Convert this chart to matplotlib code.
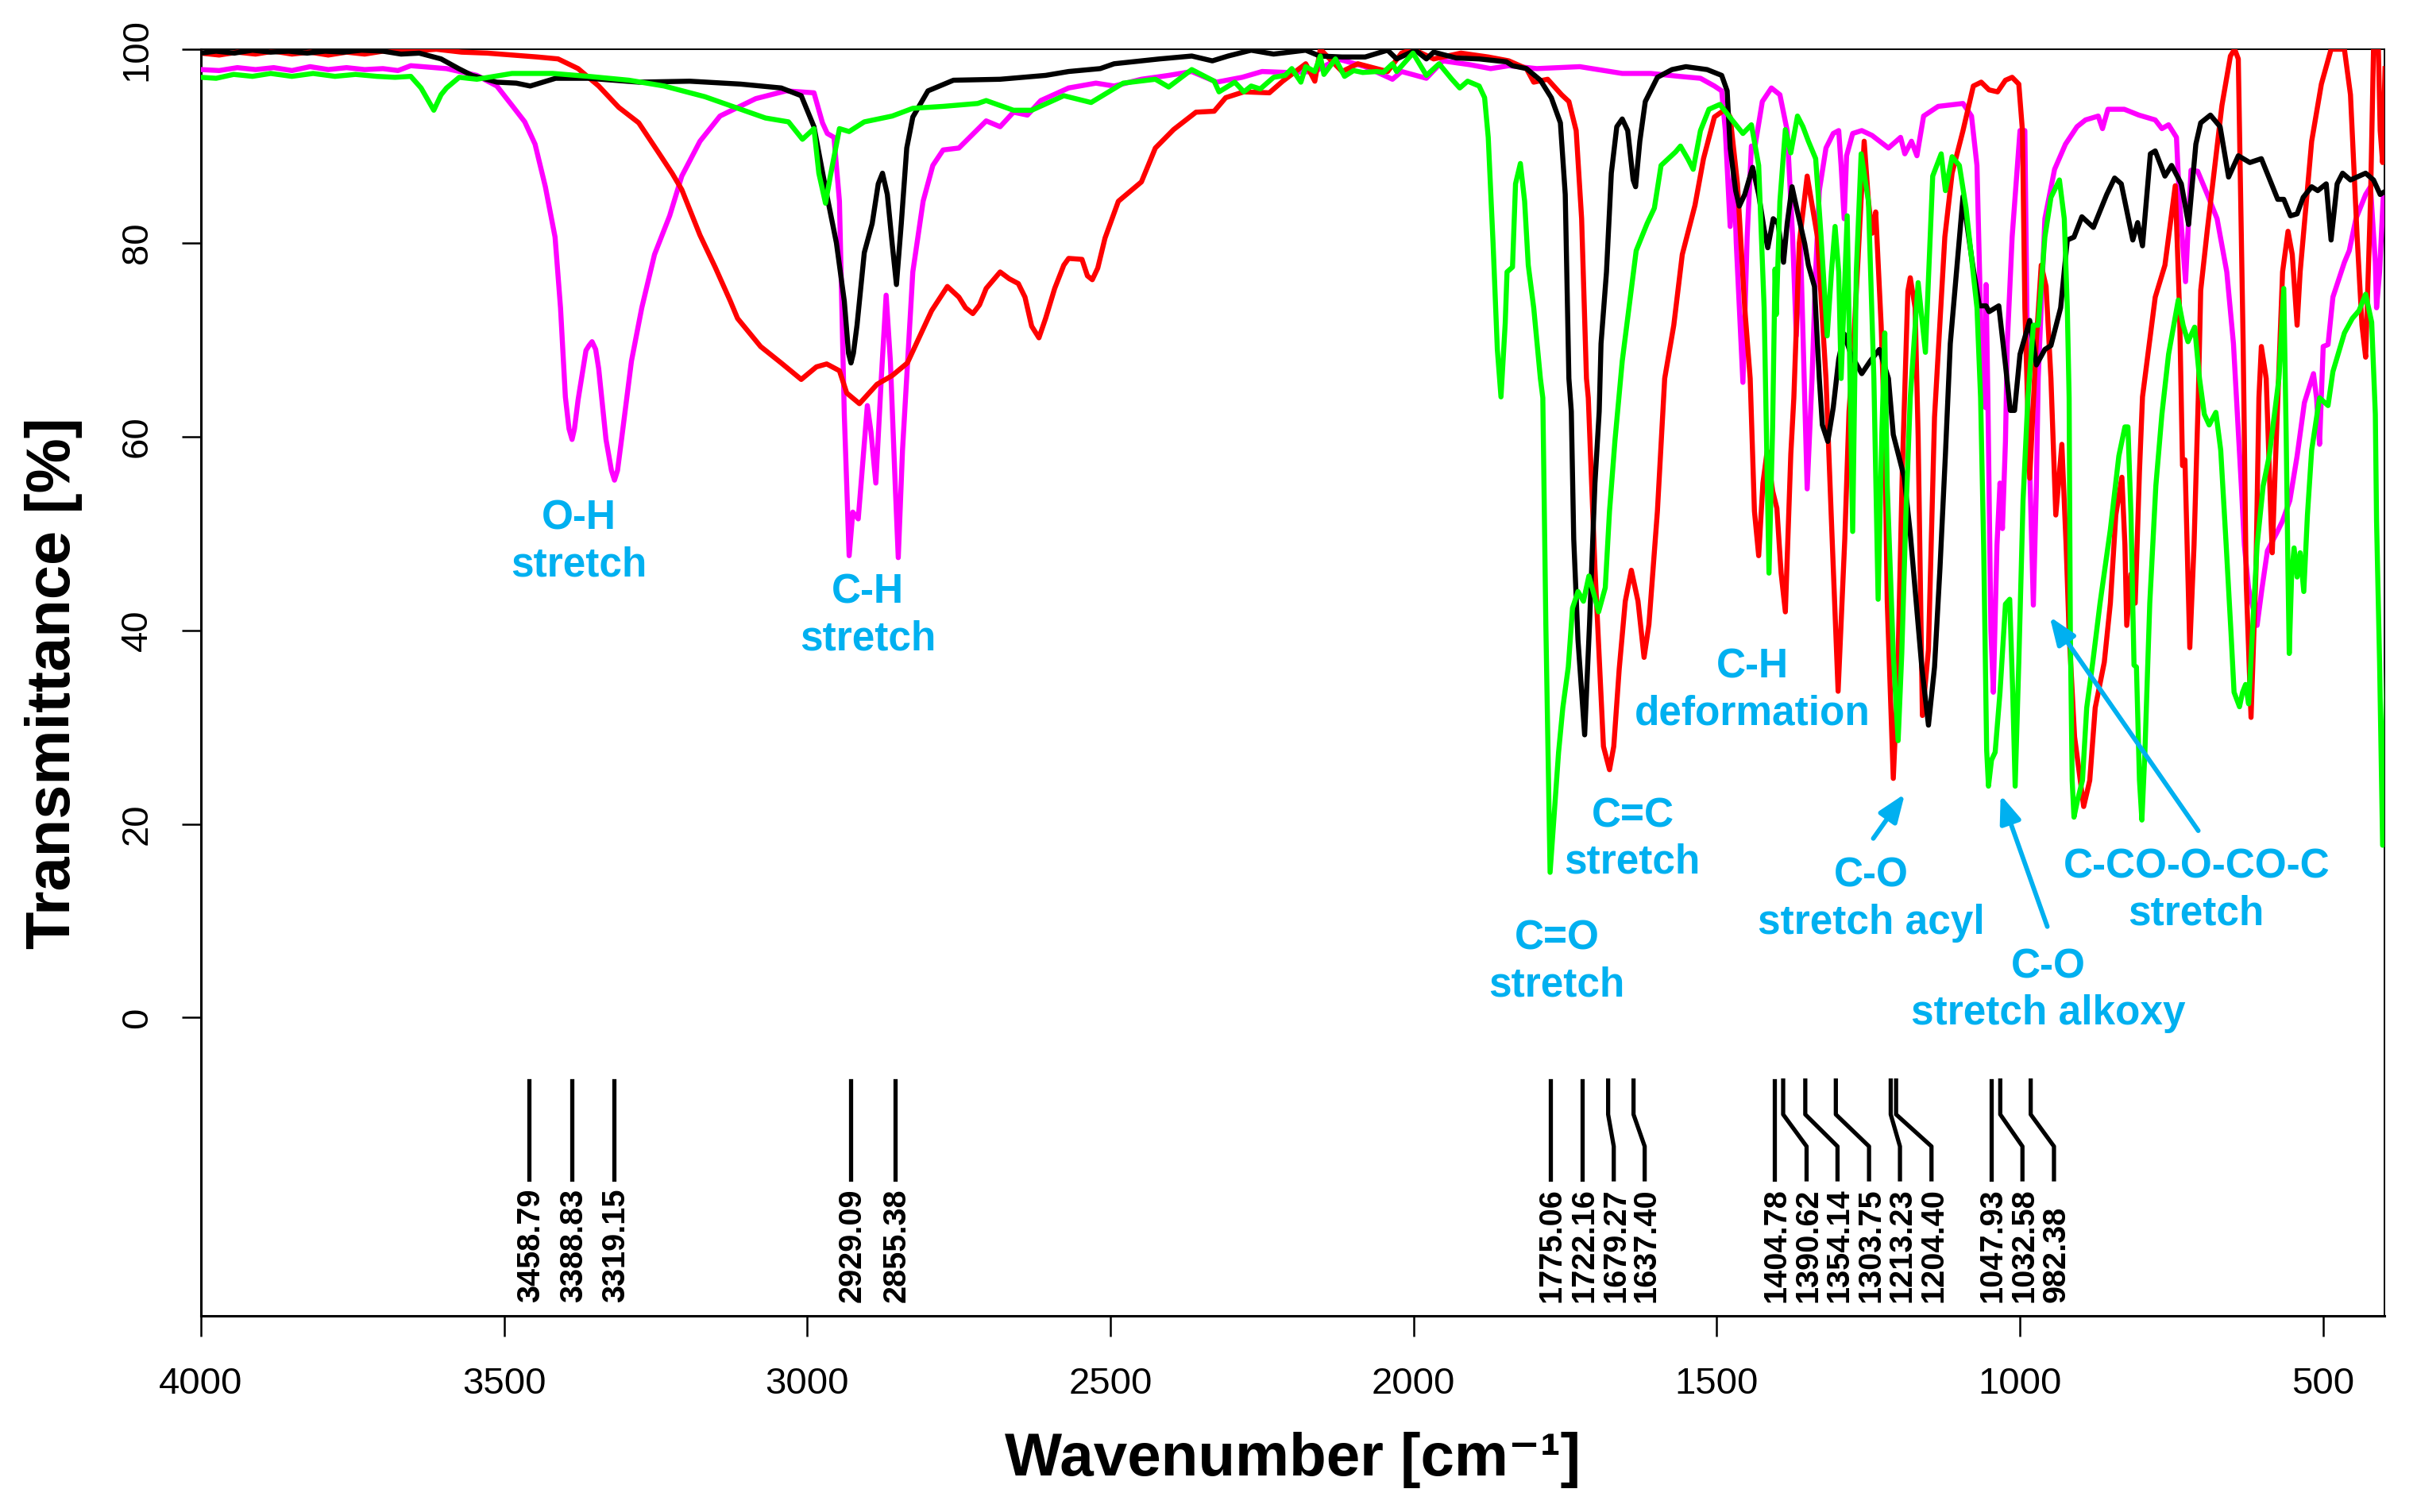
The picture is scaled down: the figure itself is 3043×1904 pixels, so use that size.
#!/usr/bin/env python3
"""FTIR overlay of four spectra with assigned peak labels."""
import numpy as np
import matplotlib
matplotlib.use("Agg")
import matplotlib.pyplot as plt

plt.rcParams["font.family"] = ["Liberation Sans", "DejaVu Sans"]

# (wavenumber, transmittance)
BLACK = [(4000,99.6),(3975,99.8),(3945,99.6),(3915,99.9),(3885,99.7),(3855,99.8),(3825,99.6),(3795,99.8),(3765,99.7),(3735,99.9),
    (3700,99.8),(3670,99.5),(3640,99.6),(3604,99),(3575,98),(3553,97.3),(3512,96.6),(3480,96.5),(3457,96.2),
    (3415,97),(3361,97),(3278,96.6),(3194,96.7),(3110,96.4),(3043,96),(3010,95.2),(2989,92),(2968,85),(2952,80),
    (2939,74),(2932,68.6),(2928,67.6),(2924,68.6),(2918,71.5),(2906,79),(2893,82),(2883,86.1),(2876,87.2),(2868,85),(2860,79.9),(2853,75.7),
    (2845,82),(2836,89.8),(2826,93),(2801,95.7),(2759,96.8),(2682,96.9),(2607,97.3),(2569,97.7),(2517,98),(2494,98.5),
    (2419,99),(2366,99.3),(2332,98.8),(2306,99.3),(2268,99.9),(2231,99.5),(2178,99.9),(2155,99.3),(2118,99.2),(2080,99.2),
    (2043,99.9),(2028,99),(1997,99.9),(1979,99),(1967,99.7),(1930,99.1),(1892,99),(1847,98.7),(1837,98.3),(1814,98),
    (1791,96.8),(1773,95),(1758,92.4),(1750,85),(1744,66),(1740,62.6),(1736,49.4),(1729,39),(1718,29.2),(1710,40.6),
    (1701,55.2),(1694,62.6),(1691,69.6),(1682,77),(1674,87.2),(1665,92),(1656,92.8),(1647,91.6),(1638,86.5),(1634,85.8),
    (1627,90.5),(1618,94.6),(1598,97.1),(1574,97.9),(1551,98.2),(1516,97.9),(1492,97.3),(1483,95.7),(1478,89.8),(1469,85.4),
    (1463,83.8),(1454,85),(1441,87.8),(1431,85),(1422,81.4),(1416,79.5),(1407,82.5),(1399,82),(1390,78),(1384,82),
    (1376,85.8),(1367,83.2),(1355,79.9),(1349,77.7),(1339,75.5),(1331,66),(1326,61.2),(1317,59.5),(1308,63),(1299,68),
    (1290,70.6),(1279,68.5),(1261,66.5),(1247,67.8),(1232,69),(1217,66),(1209,60.2),(1191,55.8),(1181,50),(1172,43.5),
    (1162,36.2),(1151,30.2),(1141,36.2),(1132,46.4),(1123,58.2),(1115,69.6),(1094,84.8),(1078,77.7),(1067,73.5),(1056,73.5),
    (1051,72.9),(1035,73.5),(1024,67.4),(1016,62.7),(1009,62.7),(1000,68.5),(984,72),(973,67.4),(959,69),(949,69.4),
    (933,73.3),(922,80.3),(911,80.6),(898,82.7),(879,81.6),(857,85),(844,86.7),(833,86.1),(814,80.3),(806,82.1),
    (798,79.7),(785,89.2),(777,89.5),(761,86.9),(750,88),(734,86.1),(722,81.9),(710,90.2),(702,92.4),(686,93.2),
    (670,92),(656,86.8),(640,89),(621,88.3),(602,88.7),(575,84.5),(565,84.5),(554,82.8),(543,83),(533,84.7),
    (519,85.8),(509,85.4),(495,86.1),(487,80.3),(477,86.1),(468,87.2),(455,86.5),(430,87.2),(417,86.5),(406,85),(396,85.4)]

RED = [(4000,99.6),(3970,99.4),(3940,99.7),(3910,99.5),(3880,99.8),(3850,99.5),(3820,99.7),(3790,99.4),(3760,99.7),(3730,99.5),
    (3700,99.8),(3654,99.8),(3612,100),(3570,99.7),(3528,99.6),(3445,99.2),(3411,99),(3378,98),
    (3344,96.2),(3311,94),(3278,92.4),(3244,89.2),(3223,87.2),(3207,85.5),(3177,80.8),(3152,77.5),(3127,74),(3115,72.2),
    (3077,69.3),(3043,67.6),(3010,65.9),(2985,67.2),(2968,67.5),(2947,66.8),(2935,64.5),(2914,63.4),(2885,65.4),(2860,66.3),
    (2835,67.6),(2795,73),(2769,75.5),(2750,74.4),(2739,73.3),(2727,72.7),(2716,73.6),(2705,75.3),(2682,77),(2667,76.3),(2652,75.8),
    (2641,74.4),(2630,71.4),(2618,70.2),(2607,72.2),(2592,75.3),(2577,77.7),(2569,78.4),(2547,78.3),
    (2538,76.6),(2530,76.2),(2521,77.4),(2509,80.5),(2487,84.3),(2449,86.3),(2426,89.8),(2396,91.7),(2359,93.5),(2329,93.6),(2310,95),(2280,95.6),
    (2238,95.5),(2216,96.7),(2178,98.5),(2163,96.7),(2154,100),(2118,97.7),(2092,98.5),(2043,97.7),(2020,99.6),(2001,100),
    (1967,99),(1922,99.6),(1877,99.2),(1843,98.8),(1814,98),(1802,96.6),(1779,96.9),(1756,95.3),(1744,94.6),(1732,91.6),
    (1723,82.5),(1715,66),(1712,64),(1701,46.4),(1687,28),(1677,25.6),(1670,28),(1661,36),(1651,43),(1641,46.2),
    (1630,43),(1620,37.2),(1612,40.6),(1598,52.3),(1586,66),(1571,71.5),(1557,78.8),(1536,83.9),(1522,88.7),(1504,93),
    (1486,93.8),(1478,93),(1466,86.1),(1454,73.3),(1445,66),(1438,52.3),(1431,47.7),(1424,55.2),(1417,58.5),(1408,54.4),
    (1401,52.6),(1394,45.9),(1387,41.9),(1378,58.2),(1373,64),(1364,80),(1351,86.9),(1334,80.6),(1320,66),(1311,51.3),
    (1300,33.7),(1289,49.4),(1282,62.6),(1276,67.8),(1257,90.5),(1250,84.3),(1244,81),(1238,83.2),(1229,71.5),(1223,60),
    (1219,43),(1209,24.7),(1202,34.7),(1194,56.8),(1185,75),(1181,76.4),(1173,73.3),(1168,60),(1161,31.2),(1151,38),
    (1141,62),(1124,80.6),(1112,87.2),(1094,91.6),(1077,96.2),(1064,96.6),(1051,95.8),(1037,95.6),(1024,96.8),(1013,97.1),
    (1002,96.4),(996,91.6),(992,73.3),(984,55.7),(973,70),(965,77.7),(957,75.5),(949,66),(941,51.9),(931,59.2),
    (924,48.8),(919,39.7),(910,29),(895,21.8),(885,24.5),(876,32),(861,36.7),(851,42.8),(842,51.9),(832,55.8),
    (827,48.8),(824,40.5),(817,45.8),(810,42.8),(803,56.4),(798,64.1),(777,74.4),(761,77.7),(744,85.9),(737,73.3),
    (732,57),(728,57.6),(720,38.2),(713,48.8),(706,64),(702,75.1),(691,81.4),(667,94.2),(653,99.3),(646,100),
    (640,99),(632,69.6),(627,45),(619,31),(611,45.8),(606,64),(602,69.3),(594,66),(586,51.3),(584,48),
    (578,58.6),(567,77),(558,81.2),(551,78.8),(543,71.5),(538,77),(519,90.5),(503,96.4),(487,100),(465,100),
    (455,95.3),(444,80.6),(436,71.5),(430,68.2),(422,84.3),(417,100),(409,100),(406,91.6),(402,88.3),(398,98)]

MAGENTA = [(4000,97.9),(3970,97.8),(3940,98.1),(3910,97.9),(3880,98.1),(3850,97.8),(3820,98.2),(3790,97.9),(3760,98.1),(3730,97.9),
    (3700,98),(3675,97.8),(3654,98.3),(3595,98),(3545,97.3),(3512,96.2),(3487,94.2),(3466,92.5),
    (3449,90.2),(3432,85.8),(3416,80.6),(3407,73.3),(3399,64.1),(3393,60.8),(3388,59.7),(3384,60.8),(3378,63.8),(3365,68.9),(3360,69.4),(3355,69.8),(3349,69),(3344,67),
    (3332,59.7),(3323,56.5),(3318,55.5),(3313,56.5),(3307,59.4),(3290,67.8),(3273,73.3),(3252,78.8),(3227,82.8),(3207,86.9),(3177,90.5),(3144,93.1),
    (3085,94.9),(3035,95.7),(2989,95.5),(2975,92.4),(2967,91.3),(2956,90.9),(2947,84.3),(2939,62.3),(2931,47.7),(2925,52.2),
    (2916,51.5),(2901,63.2),(2895,60.5),(2887,55.2),(2878,66),(2870,74.6),(2863,67.8),(2855,55),(2850,47.5),(2843,58.6),
    (2826,77),(2809,84.3),(2793,88),(2776,89.6),(2750,89.8),(2705,92.6),(2682,92),(2660,93.5),(2637,93.2),(2615,94.7),
    (2569,96),(2524,96.5),(2494,96.2),(2449,96.9),(2404,97.3),(2366,97.7),(2325,96.6),(2283,97.1),(2250,97.7),(2208,97.6),
    (2163,97.7),(2125,99),(2080,98.2),(2035,96.9),(2020,97.7),(1979,97),(1952,98.8),(1907,98.4),(1873,98),(1843,98.3),
    (1797,98),(1726,98.2),(1656,97.5),(1609,97.5),(1562,97.2),(1527,97),(1504,96.2),(1492,95.7),(1486,91.6),(1478,81.7),
    (1472,88),(1468,80),(1457,65.6),(1450,80.6),(1443,90),(1437,90),(1425,94.6),(1410,96),(1396,95.3),(1384,91.6),
    (1375,80.6),(1369,70.4),(1362,79.9),(1356,66),(1351,54.6),(1343,66),(1337,77),(1331,85.4),(1320,89.8),(1308,91.3),
    (1299,91.6),(1295,88),(1290,82.5),(1286,89),(1276,91.3),(1261,91.6),(1244,91.1),(1217,89.8),(1197,90.9),(1190,89.2),
    (1179,90.5),(1170,89),(1159,93.1),(1135,94.1),(1094,94.4),(1080,93.1),(1071,88),(1064,70),(1057,63),(1056,75.7),
    (1053,64),(1048,40),(1044,33.6),(1038,48.8),(1033,55.2),(1029,50.5),(1024,59.5),(1021,69.6),(1013,80.6),(1000,91.6),
    (992,91.6),(987,64),(982,52),(978,42.6),(973,54.9),(970,66),(959,82.5),(943,87.6),(925,90.2),(906,92),
    (892,92.7),(871,93.1),(864,91.8),(855,93.8),(828,93.8),(804,93.2),(777,92.7),(766,91.8),(755,92.2),(742,90.9),
    (737,84.3),(727,76),(718,87.5),(707,87.4),(691,85),(675,82.5),(659,77),(648,69.6),(643,64),(635,54.9),
    (630,48.8),(623,44.3),(609,40.5),(601,44.3),(592,48.2),(577,50),(567,51.3),(555,53.4),(543,58),(531,63.5),
    (516,66.5),(511,64),(506,59.2),(500,69.3),(492,69.5),(484,74.4),(465,78),(457,79.2),(446,82.5),(430,85),
    (422,85.8),(414,78),(412,73.3),(407,77),(401,84.7),(396,85.4)]

GREEN = [(4000,97.1),(3975,97),(3946,97.4),(3915,97.2),(3885,97.5),(3850,97.2),(3815,97.5),(3779,97.2),(3745,97.4),(3710,97.2),(3680,97.1),
    (3654,97.2),(3637,96),(3616,93.7),(3604,95.3),(3595,96),(3574,97.1),
    (3545,96.9),(3487,97.5),(3420,97.5),(3361,97.2),(3294,96.8),(3236,96.2),(3169,95.1),(3119,94),(3069,92.9),(3031,92.5),
    (3008,90.7),(2989,91.8),(2981,87.2),(2970,84.1),(2962,86.9),(2947,91.8),(2931,91.5),(2906,92.5),(2860,93.1),(2826,93.9),
    (2776,94.1),(2719,94.4),(2705,94.7),(2660,93.7),(2630,93.7),(2577,95.2),(2532,94.5),(2479,96.5),(2426,96.9),(2404,96.1),
    (2366,97.9),(2329,96.7),(2321,95.6),(2295,96.6),(2280,95.6),(2268,96.2),(2253,95.9),(2231,97.1),(2212,97.3),(2201,98),
    (2186,96.6),(2178,98.2),(2163,97.7),(2154,99.3),(2148,97.4),(2129,99),(2114,97.2),(2099,97.8),(2084,97.6),(2061,97.7),
    (2050,97.6),(2035,98.5),(2028,97.7),(2001,99.6),(1979,97.3),(1958,98.5),(1937,96.9),(1924,96),(1911,96.7),(1892,96.2),
    (1883,95),(1877,90.9),(1869,79.9),(1862,69),(1856,64.1),(1849,71.7),(1846,77),(1837,77.5),(1832,86.1),(1824,88.2),
    (1817,84.3),(1811,77.7),(1802,73.3),(1791,66),(1787,64),(1782,40.6),(1775,15),(1761,27.4),(1754,32),(1745,36.2),
    (1738,42.3),(1729,44),(1720,43),(1711,45.6),(1703,43.8),(1695,41.9),(1684,44.4),(1677,52.3),(1668,59.6),(1656,67.8),
    (1633,79.2),(1615,82),(1603,83.6),(1592,88),(1568,89.4),(1560,90),(1548,88.7),(1539,87.6),(1527,91.6),(1513,93.8),
    (1495,94.3),(1475,92.7),(1457,91.3),(1443,92.2),(1431,88),(1422,73.3),(1414,45.9),(1408,61),(1404,77.3),(1402,72.6),
    (1396,84.3),(1387,91.7),(1378,89.3),(1367,93.1),(1358,92),(1349,90.5),(1337,88.7),(1328,80.6),(1318,70.4),(1311,77),
    (1305,81.7),(1299,77),(1295,66),(1285,82.8),(1276,50.2),(1270,77),(1262,89.2),(1250,84.3),(1241,66),(1234,43.2),
    (1228,60),(1223,70.7),(1219,55),(1209,37.6),(1201,28.6),(1195,37.6),(1188,52.3),(1181,64),
    (1168,75.9),(1156,68.7),(1144,86.9),(1130,89.2),(1123,85.4),(1112,88.9),(1100,88),(1089,83.6),(1071,73.3),(1065,64),
    (1060,48.8),(1055,27.6),(1052,23.9),(1047,26.6),(1041,27.4),(1033,33.6),(1024,42.7),(1017,43.2),(1012,33.6),(1008,23.9),
    (1002,36.7),(995,53.4),(987,64),(978,71.5),(970,71.5),(959,80.6),(949,84.7),(935,86.5),(927,82.5),(922,73.3),
    (919,64),(917,39.7),(914,24.5),(911,20.7),(905,22.5),(897,24.5),(890,32),(880,36.7),(868,42.8),(851,50.4),
    (837,58),(827,61),(822,61),(817,51.9),(812,36.4),(808,36.2),(803,24.5),(799,20.4),(794,27.5),(786,42.8),
    (776,54.9),(766,62.3),(755,68.5),(739,74.1),(731,71.5),(723,69.8),(712,71.3),(704,66),(696,62.3),(688,61.2),
    (677,62.5),(669,58.6),(660,48.8),(652,39.7),(647,33.6),(638,32.1),(633,33.6),(628,34.4),(623,32.4),(618,38.2),
    (609,48.8),(599,54.9),(589,58),(573,66),(565,75.3),(561,60),(558,45.8),(556,37.6),(552,45.8),(548,48.5),
    (543,45.5),(538,48),(532,44),(526,51.9),(519,58.6),(506,64),(492,63.2),(484,66.7),(465,70.7),(452,72.2),
    (441,73),(430,74.7),(420,71.8),(414,62.3),(412,51.3),(407,36.7),(402,17.8),(397,30.6),(394,38.8)]

TICKS_X = [4000, 3500, 3000, 2500, 2000, 1500, 1000, 500]
TICKS_Y = [0, 20, 40, 60, 80, 100]

# peak marks: true position, then where the label ended up after spreading
PEAK_WN = [3458.79, 3388.83, 3319.15, 2929.09, 2855.38, 1775.06, 1722.16, 1679.27, 1637.40,
           1404.78, 1390.62, 1354.14, 1303.75, 1213.23, 1204.40, 1047.93, 1032.58, 982.38]
PEAK_LABEL_WN = [3458.79, 3388.83, 3319.15, 2929.09, 2855.38, 1775.06, 1722.16, 1670, 1619,
                 1404.78, 1352, 1301, 1249, 1198, 1146, 1047.93, 996, 944]

ANNOTATIONS = [
    ("O-H\nstretch", 3376, 49.1),
    ("C-H\nstretch", 2900, 41.5),
    ("C-H\ndeformation", 1441, 33.8),
    ("C=C\nstretch", 1639, 18.4),
    ("C=O\nstretch", 1764, 5.7),
    ("C-O\nstretch acyl", 1245, 12.2),
    ("C-O\nstretch alkoxy", 953, 2.8),
    ("C-CO-O-CO-C\nstretch", 709, 13.1),
]
ARROWS = [
    ((1242, 18.5), (1190, 23.1)),
    ((955, 9.4), (1032, 23)),
    ((706, 19.3), (951, 41.4)),
]

BLUE = "#00B0F0"
W, H = 3043, 1904
LEFT, RIGHT, TOP, BOTTOM = 253, 3002, 62, 1657


def main():
    fig = plt.figure(figsize=(W / 100, H / 100), dpi=100)
    ax = fig.add_axes([LEFT / W, 1 - BOTTOM / H, (RIGHT - LEFT) / W, (BOTTOM - TOP) / H])

    # R drew them in this order, green ends up on top
    for data, color in [(MAGENTA, "#FF00FF"), (RED, "#FF0000"), (BLACK, "#000000"), (GREEN, "#00FF00")]:
        wn, t = np.array(data).T
        ax.plot(wn, t, color=color, lw=4.6, solid_joinstyle="round", zorder=3)

    ax.set_xlim(4000, 399)
    ax.set_ylim(-30.8, 100)

    # peak leader lines
    for wn, lab in zip(PEAK_WN, PEAK_LABEL_WN):
        ax.plot([wn, wn, lab, lab], [-6.5, -10, -13.3, -16.7], color="black", lw=3.8, zorder=3)
        ax.text(lab - 3, -29.4, f"{wn:.2f}", rotation=90, ha="center", va="bottom",
                fontsize=28.5, fontweight="bold", color="black")

    for txt, x, y in ANNOTATIONS:
        ax.text(x, y, txt, ha="center", va="center", fontsize=37, fontweight="bold",
                color=BLUE, linespacing=1.26, zorder=5)
    for start, end in ARROWS:
        ax.annotate("", xy=end, xytext=start, zorder=6,
                    arrowprops=dict(arrowstyle="-|>,head_length=0.7,head_width=0.27", color=BLUE,
                                    lw=4.2, mutation_scale=30, shrinkA=0, shrinkB=0))

    ax.set_xticks(TICKS_X)
    ax.set_yticks(TICKS_Y)
    ax.tick_params(axis="x", length=19, width=1.8, labelsize=34, pad=27)
    ax.tick_params(axis="y", length=17, width=1.8, labelsize=34, pad=25)
    for label in ax.get_yticklabels():
        label.set_rotation(90)
        label.set_va("center")
    for side in ["top", "right"]:
        ax.spines[side].set_linewidth(1.4)
    for side in ["left", "bottom"]:
        ax.spines[side].set_linewidth(2.2)

    fig.text(1628 / W, 1 - 1839 / H, "Wavenumber [cm\u207b\u00b9]", ha="center", va="center",
             fontsize=55, fontweight="bold")
    fig.text(68 / W, 1 - 860 / H, "Transmittance [%]", rotation=90, ha="center", va="center",
             fontsize=56, fontweight="bold")

    fig.savefig("out.png", dpi=100, facecolor="white")


if __name__ == "__main__":
    main()
